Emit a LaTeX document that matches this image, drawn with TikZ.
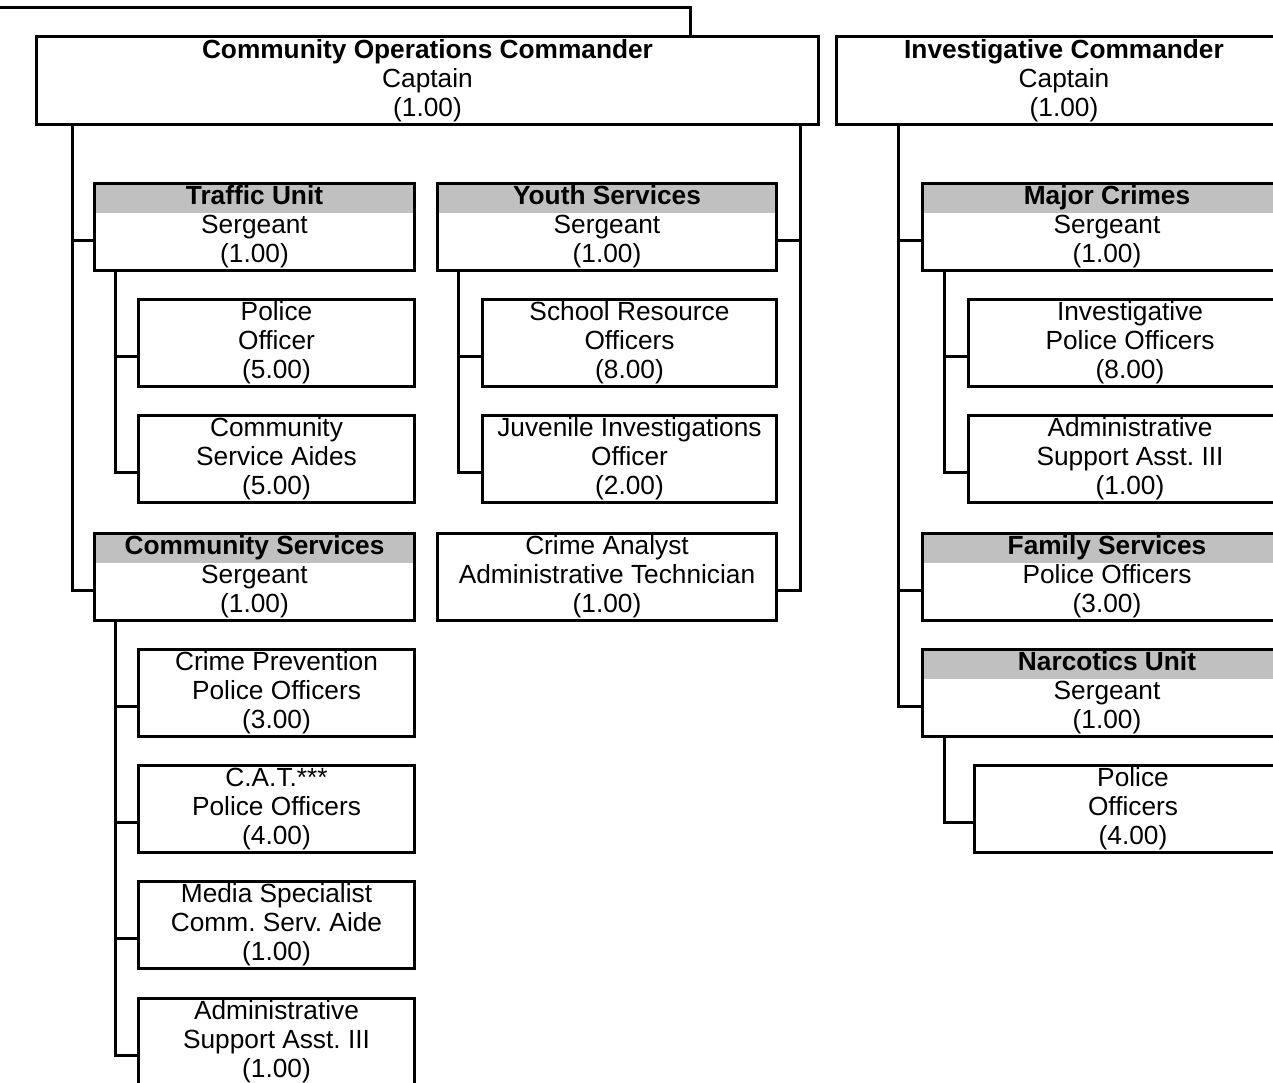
\documentclass[tikz,border=0pt]{standalone}
\usepackage{fontspec}
\setmainfont{Liberation Sans}
\usepackage{xcolor}
\definecolor{headgray}{HTML}{C0C0C0}
\newcommand{\unitfont}{\fontsize{19.7}{21.75}\selectfont}
\frenchspacing

\begin{document}
\begin{tikzpicture}[x=0.75pt, y=-0.75pt,
		unit/.style={draw, rectangle, line width=2.25pt, inner sep=0pt, align=center,
			font=\unitfont, anchor=north west, minimum height=65pt},
		head/.style={unit, path picture={\fill[headgray] (path picture bounding box.north west)
			rectangle ([yshift=-21.75pt]path picture bounding box.north east);}},
		link/.style={line width=2.25pt}]
	\path[use as bounding box, clip] (0,0) rectangle (1273,1082);

	% commanders
	\node[unit, minimum width=586.5pt, minimum height=66pt] (coc) at (35,35) {\textbf{Community Operations Commander}\\Captain\\(1.00)};
	\node[unit, minimum width=341.25pt, minimum height=66pt] (ic) at (835,35) {\textbf{Investigative Commander}\\Captain\\(1.00)};
	\coordinate (feed) at (0,7);
	\draw[link] (feed) -| ([xshift=491.25pt]coc.north west);

	% community operations
	\node[head, minimum width=240pt] (traffic) at (93,182) {\textbf{Traffic Unit}\\Sergeant\\(1.00)};
	\node[unit, minimum width=207pt] (patrol) at (137,298) {Police\\Officer\\(5.00)};
	\node[unit, minimum width=207pt] (aides) at (137,414) {Community\\Service Aides\\(5.00)};
	\node[head, minimum width=240pt] (comserv) at (93,532) {\textbf{Community Services}\\Sergeant\\(1.00)};
	\node[unit, minimum width=207pt] (prevention) at (137,648) {Crime Prevention\\Police Officers\\(3.00)};
	\node[unit, minimum width=207pt] (cat) at (137,764) {C.A.T.***\\Police Officers\\(4.00)};
	\node[unit, minimum width=207pt] (media) at (137,880) {Media Specialist\\Comm. Serv. Aide\\(1.00)};
	\node[unit, minimum width=207pt] (support) at (137,997) {Administrative\\Support Asst. III\\(1.00)};

	\node[head, minimum width=254.25pt] (youth) at (436,182) {\textbf{Youth Services}\\Sergeant\\(1.00)};
	\node[unit, minimum width=220.5pt] (sro) at (481,298) {School Resource\\Officers\\(8.00)};
	\node[unit, minimum width=220.5pt] (juvenile) at (481,414) {Juvenile Investigations\\Officer\\(2.00)};
	\node[unit, minimum width=254.25pt] (analyst) at (436,532) {Crime Analyst\\Administrative Technician\\(1.00)};

	% investigations
	\node[head, minimum width=276.75pt] (major) at (921,182) {\textbf{Major Crimes}\\Sergeant\\(1.00)};
	\node[unit, minimum width=242.25pt] (detectives) at (967,298) {Investigative\\Police Officers\\(8.00)};
	\node[unit, minimum width=242.25pt] (clerk) at (967,414) {Administrative\\Support Asst. III\\(1.00)};
	\node[head, minimum width=276.75pt] (family) at (921,532) {\textbf{Family Services}\\Police Officers\\(3.00)};
	\node[head, minimum width=276.75pt] (narcotics) at (921,648) {\textbf{Narcotics Unit}\\Sergeant\\(1.00)};
	\node[unit, minimum width=237.75pt] (narcpo) at (973,764) {Police\\Officers\\(4.00)};

	% trunks
	\draw[link] ([xshift=27.75pt]coc.south west) |- ([yshift=-10.5pt]comserv.west);
	\draw[link] ([yshift=-10.5pt]traffic.west) -| ([xshift=27.75pt]coc.south west);
	\draw[link] ([xshift=-15pt]coc.south east) |- ([yshift=-10.5pt]analyst.east);
	\draw[link] ([yshift=-10.5pt]youth.east) -| ([xshift=-15pt]coc.south east);
	\draw[link] ([xshift=16.5pt]traffic.south west) |- ([yshift=-10.5pt]aides.west);
	\draw[link] ([yshift=-10.5pt]patrol.west) -| ([xshift=16.5pt]traffic.south west);
	\draw[link] ([xshift=16.5pt]youth.south west) |- ([yshift=-10.5pt]juvenile.west);
	\draw[link] ([yshift=-10.5pt]sro.west) -| ([xshift=16.5pt]youth.south west);
	\draw[link] ([xshift=16.5pt]comserv.south west) |- ([yshift=-10.5pt]support.west);
	\foreach \n in {prevention, cat, media}
		\draw[link] ([yshift=-10.5pt]\n.west) -| ([xshift=16.5pt]comserv.south west);

	\draw[link] ([xshift=47.25pt]ic.south west) |- ([yshift=-10.5pt]narcotics.west);
	\foreach \n in {major, family}
		\draw[link] ([yshift=-10.5pt]\n.west) -| ([xshift=47.25pt]ic.south west);
	\draw[link] ([xshift=17.25pt]major.south west) |- ([yshift=-10.5pt]clerk.west);
	\draw[link] ([yshift=-10.5pt]detectives.west) -| ([xshift=17.25pt]major.south west);
	\draw[link] ([xshift=17.25pt]narcotics.south west) |- ([yshift=-10.5pt]narcpo.west);
\end{tikzpicture}
\end{document}
